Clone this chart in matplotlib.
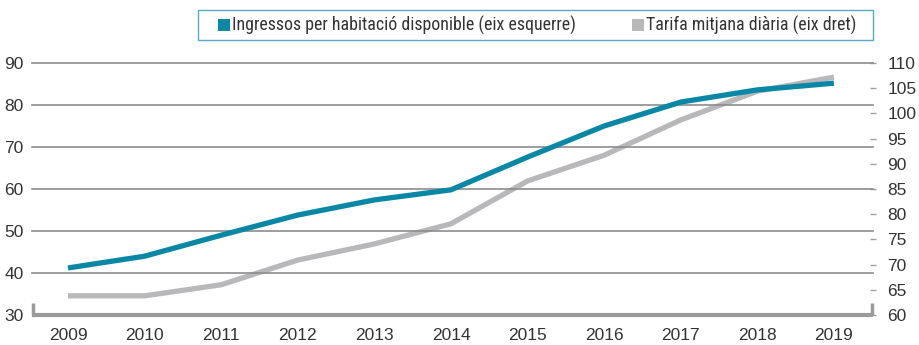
import matplotlib
matplotlib.use('Agg')
import matplotlib.pyplot as plt
import matplotlib.patches as mpatches
from matplotlib import font_manager

# Dades
years = ['2009', '2010', '2011', '2012', '2013', '2014', '2015', '2016', '2017', '2018', '2019']
revpar = [41.2, 44.0, 49.0, 53.8, 57.4, 59.8, 67.6, 75.0, 80.7, 83.6, 85.2]
adr = [63.8, 63.8, 66.0, 70.9, 74.1, 78.1, 86.6, 91.7, 98.7, 104.4, 107.2]
left_ticks = [30, 40, 50, 60, 70, 80, 90]
right_ticks = [60, 65, 70, 75, 80, 85, 90, 95, 100, 105, 110]
labels = ['Ingressos per habitació disponible (eix esquerre)',
          'Tarifa mitjana diària (eix dret)']

TEAL = '#0a87a5'
GREY = '#b8b8bb'
GRID = '#8c8c8c'
TXT = '#333333'
W, H = 919, 345

names = {f.name for f in font_manager.fontManager.ttflist}
narrow = 'DejaVu Sans'
for cand in ['Liberation Sans Narrow', 'DejaVu Sans Condensed', 'Roboto Condensed',
             'Open Sans Condensed', 'Noto Sans Condensed']:
    if cand in names:
        narrow = cand
        break
plt.rcParams['font.family'] = ['Liberation Sans', 'DejaVu Sans']

fig = plt.figure(figsize=(W / 100, H / 100), dpi=100)
ax = fig.add_axes([32 / W, 1 - 315 / H, (873 - 32) / W, (315 - 63) / H])
ax2 = ax.twinx()

x = list(range(len(years)))
ax.set_xlim(-0.47, len(years) - 0.49)
ax.set_ylim(30, 90)
ax2.set_ylim(60, 110)

# reixeta horitzontal de l'eix esquerre
for v in left_ticks[1:]:
    ax.axhline(v, color=GRID, lw=1.2, zorder=1, clip_on=False)

ax2.plot(x, adr, color=GREY, lw=3.8, solid_capstyle='butt', zorder=3)
ax.plot(x, revpar, color=TEAL, lw=3.8, solid_capstyle='butt', zorder=4)
ax.set_zorder(ax2.get_zorder() + 1)
ax.patch.set_visible(False)

for a in (ax, ax2):
    for s in a.spines.values():
        s.set_visible(False)

# eix inferior amb marques de tall
ax.plot([0, 1], [0, 0], transform=ax.transAxes, color='#9a9a9a', lw=3,
        solid_capstyle='butt', clip_on=False, zorder=5)
for xe in (0.0015, 0.9985):
    ax.plot([xe, xe], [0, 0.048], transform=ax.transAxes, color='#9a9a9a', lw=2.5,
            solid_capstyle='butt', clip_on=False, zorder=5)

ax.set_xticks(x)
ax.set_xticklabels(years)
ax.tick_params(axis='x', length=0, pad=9, labelsize=12.5, labelcolor=TXT)
ax.set_yticks(left_ticks)
ax.tick_params(axis='y', length=0, pad=6, labelsize=12.5, labelcolor=TXT)
ax2.set_yticks(right_ticks)
ax2.tick_params(axis='y', direction='inout', length=5, width=1, color='#a0a0a0',
                pad=8, labelsize=12.5, labelcolor=TXT)

# llegenda dibuixada a mà (caixa + quadrats + textos)
fig.add_artist(mpatches.Rectangle((198 / W, 1 - 40 / H), (873 - 198) / W, 30 / H,
                                  transform=fig.transFigure, fill=False,
                                  edgecolor='#5aa8c4', lw=1.0))
ty = 1 - 25 / H
renderer = fig.canvas.get_renderer()
t1 = fig.text(232 / W, ty, labels[0], family=narrow, size=12, color=TXT, va='center')
wpx = t1.get_window_extent(renderer).width
fs = 12 * 343 / wpx
t1.set_fontsize(fs)
t2 = fig.text(646 / W, ty, labels[1], family=narrow, size=fs, color=TXT, va='center')
for hx, col in ((218, TEAL), (632, GREY)):
    fig.add_artist(mpatches.Rectangle((hx / W, ty - 6 / H), 12 / W, 12 / H,
                                      transform=fig.transFigure, color=col, lw=0))

fig.savefig('out.png', dpi=100)
